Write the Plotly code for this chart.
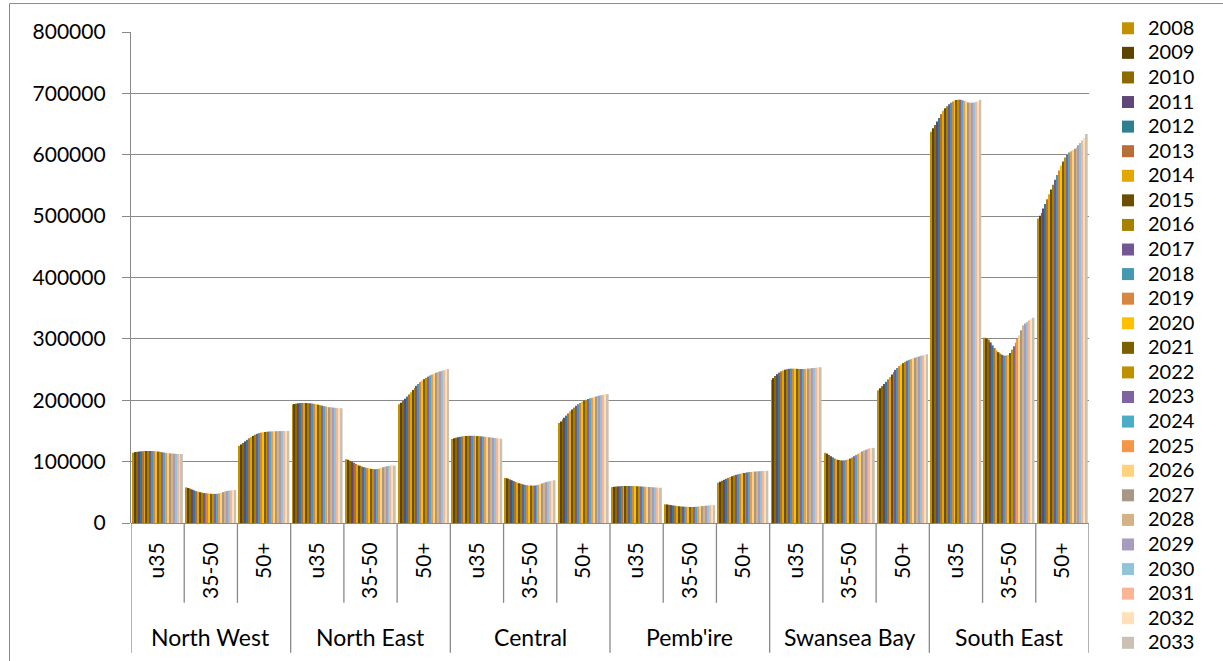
import plotly.graph_objects as go

# Projected population by region and age band, 2008-2033
years = list(range(2008, 2034))
regions = ["North West", "North East", "Central", "Pemb'ire", "Swansea Bay", "South East"]
age_bands = ["u35", "35-50", "50+"]

north_west_u35 = [114500, 115500, 116000, 116500, 116800, 117000, 117200, 117300, 117300, 117300, 117200, 117000, 116700,
                  116300, 115800, 115200, 114700, 114200, 113800, 113500, 113200, 113000, 112800, 112600, 112500, 112300]
north_west_35_50 = [58000, 57000, 55800, 54500, 53200, 52000, 51000, 50200, 49500, 48900, 48400, 48000, 47700,
                    47500, 47400, 47400, 47600, 48200, 49200, 50300, 51300, 52200, 52800, 53200, 53500, 53700]
north_west_50p = [125700, 128000, 130500, 133000, 135500, 138000, 140000, 142000, 143800, 145300, 146500, 147300, 147800,
                  148200, 148500, 148800, 149000, 149200, 149400, 149500, 149600, 149700, 149800, 149900, 150000, 150100]

north_east_u35 = [193000, 193800, 194500, 195000, 195300, 195500, 195500, 195400, 195200, 195000, 194600, 194100, 193500,
                  192800, 192000, 191200, 190400, 189700, 189100, 188600, 188200, 187900, 187600, 187400, 187200, 187000]
north_east_35_50 = [104000, 103000, 101500, 99800, 98000, 96300, 94800, 93400, 92200, 91100, 90200, 89400, 88700,
                    88200, 87800, 87600, 87800, 88500, 89600, 90800, 91800, 92500, 93000, 93300, 93400, 93500]
north_east_50p = [193500, 196000, 199000, 202500, 206000, 209500, 213000, 216500, 220000, 223500, 226500, 229500, 232000,
                  234500, 236500, 238500, 240500, 242000, 243500, 244800, 246000, 247000, 248000, 249000, 250000, 251000]

central_u35 = [137000, 138000, 139000, 139800, 140500, 141000, 141500, 141800, 142000, 142100, 142100, 142000, 141800,
               141600, 141300, 141000, 140700, 140400, 140000, 139600, 139200, 138800, 138400, 138000, 137600, 137200]
central_35_50 = [73500, 72500, 71200, 69800, 68400, 67000, 65800, 64700, 63700, 62800, 62100, 61600, 61200,
                 61000, 60900, 61000, 61400, 62200, 63300, 64500, 65600, 66600, 67500, 68300, 69000, 69600]
central_50p = [163000, 165500, 168500, 171500, 175000, 178500, 182000, 185000, 188000, 191000, 193500, 195500, 197500,
               199300, 200800, 202000, 203200, 204200, 205100, 206000, 206800, 207500, 208200, 208800, 209400, 210000]

pembs_u35 = [58500, 59000, 59400, 59700, 59900, 60100, 60200, 60300, 60300, 60300, 60200, 60100, 60000,
             59800, 59600, 59400, 59200, 59000, 58800, 58600, 58400, 58200, 58000, 57800, 57600, 57500]
pembs_35_50 = [30500, 30100, 29600, 29100, 28600, 28100, 27700, 27300, 27000, 26700, 26500, 26300, 26200,
               26100, 26100, 26200, 26400, 26700, 27100, 27500, 27900, 28200, 28500, 28800, 29000, 29200]
pembs_50p = [65600, 67200, 68800, 70400, 72000, 73500, 74900, 76200, 77400, 78500, 79400, 80200, 80900,
             81500, 82000, 82400, 82800, 83200, 83500, 83800, 84100, 84300, 84500, 84700, 84900, 85100]

swansea_u35 = [233000, 236000, 239500, 242500, 245000, 247000, 248500, 249800, 250700, 251200, 251500, 251500, 251400,
               251200, 251000, 250900, 250900, 251000, 251200, 251500, 251800, 252200, 252600, 253000, 253400, 253800]
swansea_35_50 = [114300, 113000, 111000, 108800, 106800, 105000, 103600, 102600, 102000, 101800, 102000, 102600, 103600,
                 105000, 106800, 108800, 110800, 112800, 114800, 116600, 118200, 119500, 120600, 121400, 122000, 122500]
swansea_50p = [216300, 219500, 223000, 226500, 230000, 234000, 238000, 242000, 246000, 249500, 252500, 255500, 258000,
               260500, 262500, 264300, 265800, 267000, 268200, 269300, 270400, 271400, 272400, 273300, 274200, 275000]

south_east_u35 = [637500, 643000, 648300, 654000, 659700, 665800, 671600, 675600, 679200, 682200, 684600, 686600, 688300,
                  689300, 689700, 689500, 688700, 687400, 686200, 685200, 684700, 684600, 685000, 685800, 687000, 689500]
south_east_35_50 = [302000, 300600, 298700, 294200, 289400, 285200, 281300, 278300, 275900, 274000, 272700, 272800, 273600,
                    277000, 282400, 288000, 293800, 299800, 305700, 314000, 322000, 325000, 327300, 330000, 332500, 334500]
south_east_50p = [496000, 500500, 505200, 512500, 519800, 527600, 535500, 543400, 551300, 559200, 567000, 574500, 582100,
                  588800, 595600, 599700, 603700, 605700, 607600, 609700, 611900, 615400, 619000, 623100, 627200, 633700]

categories = [
    north_west_u35, north_west_35_50, north_west_50p,
    north_east_u35, north_east_35_50, north_east_50p,
    central_u35, central_35_50, central_50p,
    pembs_u35, pembs_35_50, pembs_50p,
    swansea_u35, swansea_35_50, swansea_50p,
    south_east_u35, south_east_35_50, south_east_50p,
]

year_colors = [
    "#C39100", "#5C4300", "#8C6A00", "#5E4878", "#2F7E92", "#B86E36", "#E2A700", "#6A4F00", "#A88000",
    "#705893", "#4499B1", "#D9843F", "#FFC000", "#7D5E00", "#BF9000", "#8064A2", "#4BACC6", "#F79646",
    "#FFD27F", "#A69883", "#D3B285", "#A99BBE", "#93C3D6", "#F9B595", "#FFE0B8", "#C9C1B4",
]

FONT = "Lato"
GRID = "#898989"
W, H = 1223, 661
ML, MR, MT, MB = 131, 134, 31, 138
PW, PH = W - ML - MR, H - MT - MB


def px_x(p):
    return (p - ML) / PW


def px_y(p):
    return (H - MB - p) / PH


x_pos = list(range(len(categories)))
tick_text = [age_bands[i % 3] for i in x_pos]

fig = go.Figure()
for j, year in enumerate(years):
    fig.add_trace(go.Bar(
        x=x_pos,
        y=[cat[j] for cat in categories],
        name=f'<span style="font-size:20px">{year}</span>',
        marker=dict(color=year_colors[j], line=dict(width=0)),
        hovertemplate=f"{year}: %{{y}}<extra></extra>",
    ))

shapes = []
# category separators below the axis: short within a region, long between regions
for b in range(len(categories) + 1):
    xb = b - 0.5
    long_line = b % 3 == 0
    shapes.append(dict(
        type="line", xref="x", yref="paper", x0=xb, x1=xb,
        y0=0, y1=px_y(653 if long_line else 603),
        line=dict(color=GRID, width=1.3),
    ))
# outer chart frame (top and left edges)
shapes.append(dict(type="line", xref="paper", yref="paper", x0=px_x(9.5), x1=px_x(W + 2),
                   y0=px_y(2.5), y1=px_y(2.5), line=dict(color="#8a8a8a", width=1)))
shapes.append(dict(type="line", xref="paper", yref="paper", x0=px_x(9.5), x1=px_x(9.5),
                   y0=px_y(2.5), y1=px_y(H + 2), line=dict(color="#8a8a8a", width=1)))

annotations = []
for g, region in enumerate(regions):
    annotations.append(dict(
        x=3 * g + 1, y=px_y(637), xref="x", yref="paper",
        text=region, showarrow=False, xanchor="center", yanchor="middle",
        font=dict(family=FONT, size=23, color="#000000"),
    ))

fig.update_layout(
    width=W, height=H,
    margin=dict(l=ML, r=MR, t=MT, b=MB, pad=0),
    paper_bgcolor="white", plot_bgcolor="white",
    barmode="group", bargap=0.05, bargroupgap=0,
    font=dict(family=FONT, size=21, color="#000000"),
    showlegend=True,
    legend=dict(
        x=px_x(1108), y=px_y(11), xanchor="left", yanchor="top",
        font=dict(family=FONT, size=16.6, color="#000000"),
        bgcolor="rgba(0,0,0,0)", borderwidth=0, traceorder="normal",
        maxheight=H,
    ),
    shapes=shapes,
    annotations=annotations,
    xaxis=dict(
        range=[-0.5, len(categories) - 0.5],
        tickmode="array", tickvals=x_pos, ticktext=tick_text,
        tickangle=-90, ticks="outside", ticklen=10, tickcolor="rgba(0,0,0,0)",
        showgrid=False, zeroline=False, showline=False,
        tickfont=dict(family=FONT, size=21, color="#000000"),
        fixedrange=True,
    ),
    yaxis=dict(
        range=[0, 800000], tickmode="linear", tick0=0, dtick=100000, tickformat="d",
        showgrid=True, gridcolor=GRID, gridwidth=1.3,
        zeroline=True, zerolinecolor=GRID, zerolinewidth=1.3,
        showline=True, linecolor=GRID, linewidth=1.3,
        ticks="outside", ticklen=8, tickcolor=GRID, tickwidth=1.3,
        ticklabelstandoff=12,
        tickfont=dict(family=FONT, size=21, color="#000000"),
        fixedrange=True,
    ),
)

fig.write_html("out.html")
